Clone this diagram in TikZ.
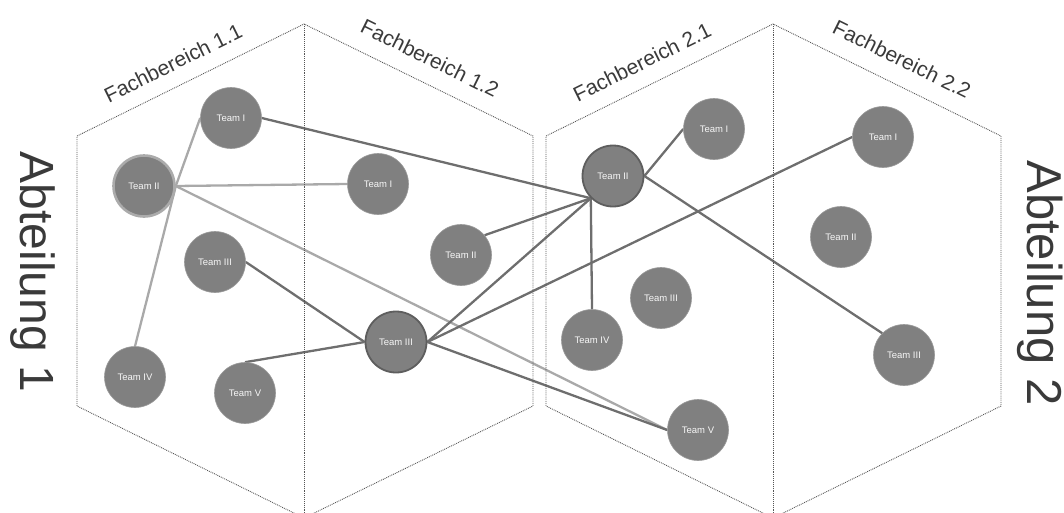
\documentclass[tikz,border=0pt]{standalone}
\usepackage{fontspec}
\setmainfont{Liberation Sans}
\usetikzlibrary{backgrounds}

\definecolor{teamfill}{HTML}{808080}
\definecolor{teamedge}{HTML}{9A9A9A}
\definecolor{ringlight}{HTML}{ABABAB}
\definecolor{ringdark}{HTML}{5E5E5E}
\definecolor{linklight}{HTML}{A9A9A9}
\definecolor{linkdark}{HTML}{6E6E6E}
\definecolor{hexgray}{HTML}{555555}
\definecolor{labelgray}{HTML}{3A3A3A}

\begin{document}
\begin{tikzpicture}[x=1pt,y=-1pt,
  team/.style={circle, fill=teamfill, draw=teamedge, line width=0.6pt,
    minimum size=61pt, inner sep=0pt, text=white!94!gray,
    font=\fontsize{9.5}{9.5}\selectfont},
  lightring/.style={draw=ringlight, line width=2.6pt},
  darkring/.style={draw=ringdark, line width=1.8pt},
  lightlink/.style={draw=linklight, line width=2.3pt},
  darklink/.style={draw=linkdark, line width=2.3pt},
  hexline/.style={draw=hexgray, densely dotted, line width=0.9pt},
  areatitle/.style={text=labelgray, font=\fontsize{21}{21}\selectfont},
  depttitle/.style={text=labelgray, anchor=base, rotate=-90}]

\useasboundingbox (0,0) rectangle (1064,512);
\clip (0,0) rectangle (1064,512);

% Abteilung 1: hexagon split into two Fachbereiche
\draw[hexline] (77,136) -- (304,24) -- (533,136) -- (533,406)
  -- (304,518) -- (77,406) -- cycle;
\draw[hexline] (304,24) -- (304,518);

% Abteilung 2
\draw[hexline] (546,136) -- (773,24) -- (1001,136) -- (1001,406)
  -- (773,518) -- (546,406) -- cycle;
\draw[hexline] (773,24) -- (773,518);

% section titles along the upper edges
\node[areatitle, rotate=26.3]  (fb11) at (173,63) {Fachbereich 1.1};
\node[areatitle, rotate=-26.3] (fb12) at (430,58) {Fachbereich 1.2};
\node[areatitle, rotate=26.3]  (fb21) at (642,62) {Fachbereich 2.1};
\node[areatitle, rotate=-26.3] (fb22) at (902,59) {Fachbereich 2.2};

% department titles
\node[depttitle, font=\fontsize{48}{48}\selectfont] (ab1) at (20,272) {Abteilung 1};
\node[depttitle, font=\fontsize{49}{49}\selectfont] (ab2) at (1027,283) {Abteilung 2};

% teams of Fachbereich 1.1
\node[team] (L1) at (231,118) {Team I};
\node[team, lightring] (L2) at (144,186) {Team II};
\node[team] (L3) at (215,262) {Team III};
\node[team] (L4) at (135,377) {Team IV};
\node[team] (L5) at (245,393) {Team V};

% teams of Fachbereich 1.2
\node[team] (M1) at (378,184) {Team I};
\node[team] (M2) at (461,255) {Team II};
\node[team, darkring] (M3) at (396,342) {Team III};

% teams of Fachbereich 2.1
\node[team] (R1) at (714,129) {Team I};
\node[team, darkring] (R2) at (613,176) {Team II};
\node[team] (R3) at (661,298) {Team III};
\node[team] (R4) at (592,340) {Team IV};
\node[team] (R5) at (698,430) {Team V};

% teams of Fachbereich 2.2
\node[team] (S1) at (883,137) {Team I};
\node[team] (S2) at (841,237) {Team II};
\node[team] (S3) at (904,355) {Team III};

\begin{scope}[on background layer]
  % links of Team II (Fachbereich 1.1)
  \draw[lightlink] (L2.east) -- (L1.west);
  \draw[lightlink] (L2.east) -- (L4.north);
  \draw[lightlink] (L2.east) -- (M1.west);
  \draw[lightlink] (L2.east) -- (R5.west);
  % links towards Team II (Fachbereich 2.1)
  \draw[darklink] (L1.east) -- (R2.south west);
  \draw[darklink] (M2.40) -- (R2.south west);
  \draw[darklink] (M3.east) -- (R2.south west);
  \draw[darklink] (R4.north) -- (R2.south west);
  \draw[darklink] (R2.east) -- (R1.west);
  \draw[darklink] (R2.east) -- (S3.north west);
  % links of Team III (Fachbereich 1.2)
  \draw[darklink] (M3.east) -- (S1.west);
  \draw[darklink] (M3.east) -- (R5.west);
  \draw[darklink] (L3.east) -- (M3.west);
  \draw[darklink] (L5.north) -- (M3.west);
\end{scope}
\end{tikzpicture}
\end{document}
